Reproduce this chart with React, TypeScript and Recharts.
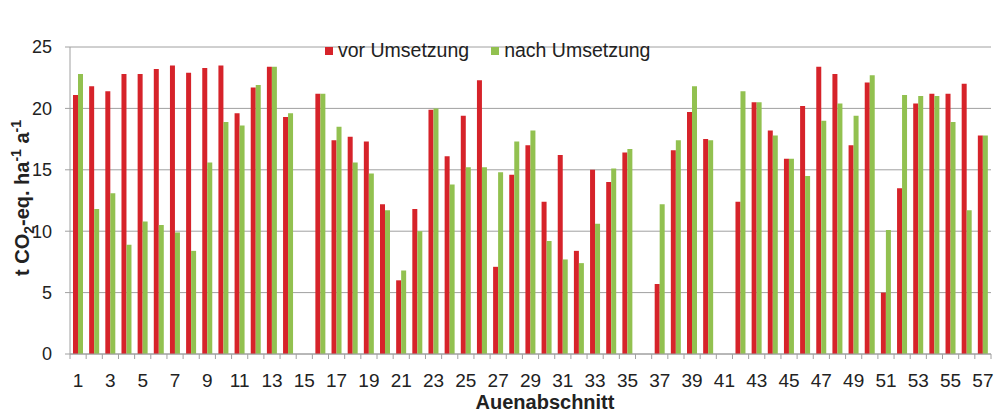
import { BarChart, Bar, XAxis, YAxis, CartesianGrid, Legend } from 'recharts';

const abschnitte = [
  '1', '2', '3', '4', '5', '6', '7', '8', '9', '10', '11', '12', '13', '14', '15', '16', '17', '18', '19',
  '20', '21', '22', '23', '24', '25', '26', '27', '28', '29', '30', '31', '32', '33', '34', '35', '36', '37',
  '38', '39', '40', '41', '42', '43', '44', '45', '46', '47', '48', '49', '50', '51', '52', '53', '54', '55',
  '56', '57',
];

const vorUmsetzung = [
  21.1, 21.8, 21.4, 22.8, 22.8, 23.2, 23.5, 22.9, 23.3, 23.5, 19.6, 21.7, 23.4, 19.3, null, 21.2, 17.4, 17.7,
  17.3, 12.2, 6.0, 11.8, 19.9, 16.1, 19.4, 22.3, 7.1, 14.6, 17.0, 12.4, 16.2, 8.4, 15.0, 14.0, 16.4, null, 5.7,
  16.6, 19.7, 17.5, null, 12.4, 20.5, 18.2, 15.9, 20.2, 23.4, 22.8, 17.0, 22.1, 5.0, 13.5, 20.4, 21.2, 21.2,
  22.0, 17.8,
];

const nachUmsetzung = [
  22.8, 11.8, 13.1, 8.9, 10.8, 10.5, 9.9, 8.4, 15.6, 18.9, 18.6, 21.9, 23.4, 19.6, null, 21.2, 18.5, 15.6,
  14.7, 11.7, 6.8, 10.0, 20.0, 13.8, 15.2, 15.2, 14.8, 17.3, 18.2, 9.2, 7.7, 7.4, 10.6, 15.1, 16.7, null, 12.2,
  17.4, 21.8, 17.4, null, 21.4, 20.5, 17.8, 15.9, 14.5, 19.0, 20.4, 19.4, 22.7, 10.1, 21.1, 21.0, 21.0, 18.9,
  11.7, 17.8,
];

const yTicks = [0, 5, 10, 15, 20, 25];

const FONT = '"Liberation Sans", Arial, sans-serif';
const RED = '#d6232a';
const GREEN = '#92c150';
const AXIS = '#a0a0a0';

const WIDTH = 998;
const HEIGHT = 412;
const MARGIN = { top: 24, right: 7, left: 0, bottom: 0 };
const Y_AXIS_W = 70;
const HALF_BAND = (WIDTH - Y_AXIS_W - MARGIN.right) / abschnitte.length / 2;

const chartData = abschnitte.map((name, i) => ({
  name,
  vor: vorUmsetzung[i],
  nach: nachUmsetzung[i],
}));

// Excel style: tick marks between categories, label on every other one
const CategoryTick = (props: any) => {
  const { x, y, payload, index } = props;
  const last = index === abschnitte.length - 1;
  return (
    <g>
      <line x1={x - HALF_BAND} y1={y} x2={x - HALF_BAND} y2={y + 5} stroke={AXIS} />
      {last && <line x1={x + HALF_BAND} y1={y} x2={x + HALF_BAND} y2={y + 5} stroke={AXIS} />}
      {index % 2 === 0 && (
        <text x={x} y={y + 33} textAnchor="middle" fontSize={19} fill="#222" fontFamily={FONT}>
          {payload.value}
        </text>
      )}
    </g>
  );
};

const YTitle = () => (
  <text
    transform="translate(29,198) rotate(-90)"
    textAnchor="middle"
    fontSize={20}
    fontWeight="bold"
    fill="#222"
    fontFamily={FONT}
  >
    <tspan>t CO</tspan>
    <tspan fontSize={14} dy={5}>2</tspan>
    <tspan dy={-5}>-eq. ha</tspan>
    <tspan fontSize={14} dy={-8}>-1</tspan>
    <tspan dy={8}> a</tspan>
    <tspan fontSize={14} dy={-8}>-1</tspan>
  </text>
);

const XTitle = () => (
  <text x={545} y={409} textAnchor="middle" fontSize={20} fontWeight="bold" fill="#222" fontFamily={FONT}>
    Auenabschnitt
  </text>
);

const LegendContent = () => (
  <div style={{ display: 'flex', alignItems: 'center', fontFamily: FONT, fontSize: 19.5, color: '#222' }}>
    <span style={{ width: 8, height: 8, background: RED, marginRight: 5 }} />
    <span style={{ marginRight: 22 }}>vor Umsetzung</span>
    <span style={{ width: 8, height: 8, background: GREEN, marginRight: 5 }} />
    <span>nach Umsetzung</span>
  </div>
);

export default function App() {
  return (
    <div style={{ position: 'absolute', left: 0, top: 0, width: WIDTH, height: HEIGHT, background: '#fff' }}>
      <BarChart width={WIDTH} height={HEIGHT} data={chartData} margin={MARGIN} barGap={0} barSize={5}>
        <CartesianGrid vertical={false} stroke={AXIS} />
        <XAxis
          dataKey="name"
          interval={0}
          height={58}
          tickSize={0}
          tickMargin={0}
          axisLine={{ stroke: AXIS }}
          tick={<CategoryTick />}
          label={<XTitle />}
        />
        <YAxis
          width={Y_AXIS_W}
          domain={[0, 25]}
          ticks={yTicks}
          tickSize={5}
          tickMargin={13}
          axisLine={{ stroke: AXIS }}
          tickLine={{ stroke: AXIS }}
          tick={{ fontSize: 18, fill: '#222', fontFamily: FONT }}
          label={<YTitle />}
        />
        <Legend
          verticalAlign="top"
          align="left"
          content={<LegendContent />}
          wrapperStyle={{ top: 39, left: 325, width: 'auto' }}
        />
        <Bar dataKey="vor" name="vor Umsetzung" fill={RED} isAnimationActive={false} />
        <Bar dataKey="nach" name="nach Umsetzung" fill={GREEN} isAnimationActive={false} />
      </BarChart>
    </div>
  );
}
